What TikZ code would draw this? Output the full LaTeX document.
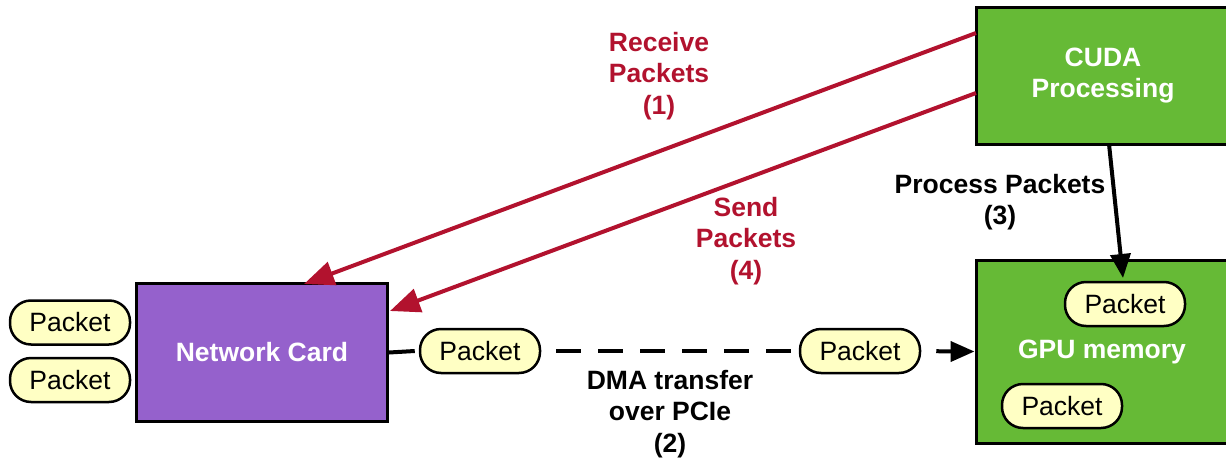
\documentclass[tikz,border=0pt]{standalone}
\usepackage{fontspec}
\setmainfont{Liberation Sans}
\usetikzlibrary{arrows.meta}
\definecolor{ncpurple}{RGB}{149,97,204}
\definecolor{gpugreen}{RGB}{102,186,54}
\definecolor{pktyellow}{RGB}{255,255,196}
\definecolor{arrred}{RGB}{178,18,46}
\begin{document}
\begin{tikzpicture}[x=1pt,y=-1pt,
  box/.style={draw=black, line width=3pt, inner sep=0pt, text=white, align=center,
    font=\bfseries\fontsize{26.5}{31}\selectfont},
  pkt/.style={draw=black, line width=2.5pt, fill=pktyellow, rounded corners=21pt,
    minimum width=120pt, minimum height=44pt, inner sep=0pt,
    font=\fontsize{26.5}{30}\selectfont},
  lbl/.style={font=\bfseries\fontsize{26.5}{31.5}\selectfont, align=center},
  redarrow/.style={draw=arrred, line width=4pt, -{Triangle[length=30pt,width=24pt]}},
  blkarrow/.style={draw=black, line width=4pt, -{Triangle[length=24pt,width=20pt]}},
  dmaline/.style={draw=black, line width=4pt, dash pattern=on 25pt off 17pt}
]
\useasboundingbox (0,0) rectangle (1226,463);
% boxes
\node[box, fill=ncpurple, minimum width=251pt, minimum height=138pt] (nc) at (262,352.5) {Network Card};
\node[box, fill=gpugreen, minimum width=254pt, minimum height=137pt] (cuda) at (1103,75.5) {CUDA\\Processing};
\node[box, fill=gpugreen, minimum width=254pt, minimum height=183pt] (gpu) at (1103,351.5) {};
\node[font=\bfseries\fontsize{26.5}{31}\selectfont, text=white] (gputxt) at (1102,352) {GPU memory};
% packets
\node[pkt] (pl1) at (70,322.5) {Packet};
\node[pkt] (pl2) at (70,380) {Packet};
\node[pkt] (pg1) at (1125,304) {Packet};
\node[pkt] (pg2) at (1062,406) {Packet};
% DMA line
\node[pkt] (pm1) at (480,351) {Packet};
\node[pkt] (pm2) at (860,351) {Packet};
\draw[draw=black, line width=4pt] (nc.east) -- ([xshift=-4pt]pm1.west);
\draw[dmaline, dash phase=27pt] (pm1.east) -- (pm2.west);
\draw[dmaline, dash phase=27pt] (pm2.east) -- ([xshift=-18pt]gpu.west);
\draw[blkarrow, solid] ([xshift=-22pt]gpu.west) -- (gpu.west);
% red arrows
\coordinate (r1s) at (976,33);
\coordinate (r1e) at (304,284);
\coordinate (r4s) at (976,93);
\coordinate (r4e) at (390,311);
\draw[redarrow] (r1s) -- (r1e);
\draw[redarrow] (r4s) -- (r4e);
% process arrow
\coordinate (p3s) at (1109,144);
\coordinate (p3e) at (1123,278);
\draw[blkarrow] (p3s) -- (p3e);
% labels
\node[lbl, text=arrred] (l1) at (659,76) {Receive\\Packets\\(1)};
\node[lbl, text=arrred] (l4) at (746,241) {Send\\Packets\\(4)};
\node[lbl] (l3) at (1000,202) {Process Packets\\(3)};
\node[lbl] (l2) at (670,414) {DMA transfer\\over PCIe\\(2)};
\end{tikzpicture}
\end{document}
